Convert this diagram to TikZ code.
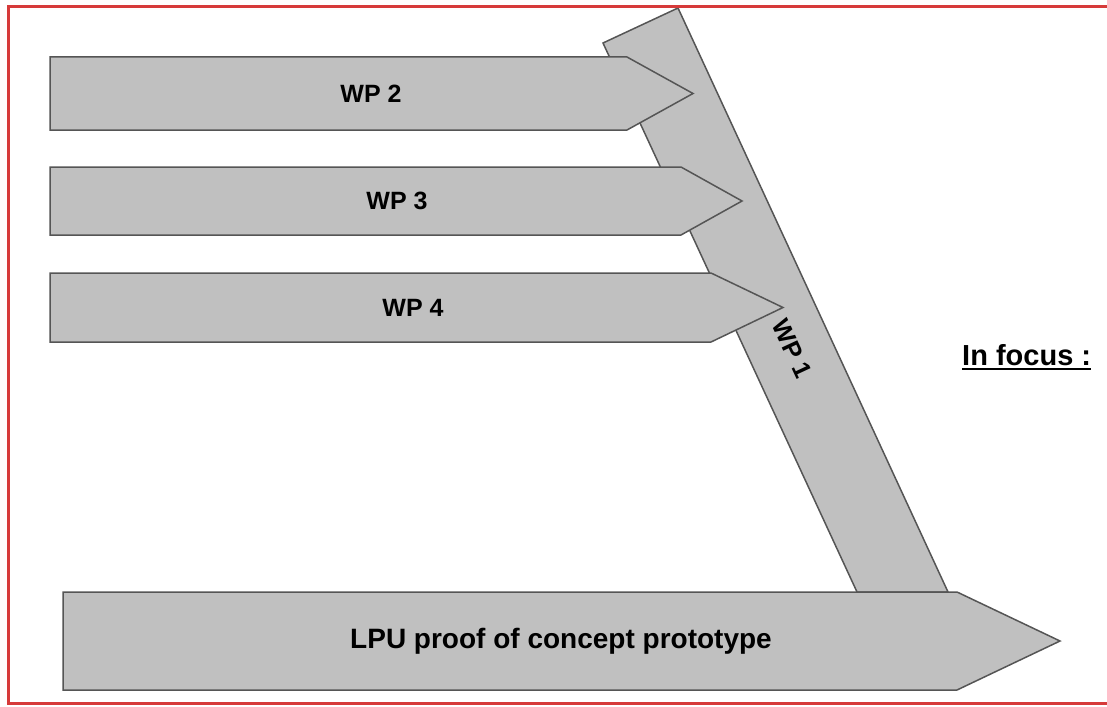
\documentclass[tikz,border=0pt]{standalone}
\usepackage{fontspec}
\setmainfont{Liberation Sans}
\usetikzlibrary{positioning,calc}
\definecolor{wpgray}{RGB}{192,192,192}
\definecolor{wpline}{RGB}{85,85,85}
\definecolor{framered}{RGB}{214,58,58}

\begin{document}
\begin{tikzpicture}[x=1pt,y=-1pt,
  wpshape/.style={fill=wpgray,draw=wpline,line width=1.5pt,line join=miter},
  wplabel/.style={font=\fontsize{25}{30}\selectfont\bfseries,inner sep=0pt}]
\useasboundingbox (0,0) rectangle (1107,706);

% WP 1 band behind the other arrows
\draw[wpshape] (603,43) -- (678,8) -- (948,592) -- (857,592) -- cycle;
\node[wplabel, rotate=-65] (wp1) at (792,349) {WP 1};

% WP 2 .. WP 4
\foreach \n/\ya/\yb/\xs/\xt/\xl in {2/57/130/627/693/371, 3/167/235/681/742/397, 4/273/342/711/783/413} {
  \draw[wpshape] (50,\ya) -- (\xs,\ya) -- (\xt,{(\ya+\yb)/2}) -- (\xs,\yb) -- (50,\yb) -- cycle;
  \node[wplabel] (wp\n) at (\xl,{(\ya+\yb)/2}) {WP \n};
}

% result
\draw[wpshape] (63,592) -- (957,592) -- (1060,641) -- (957,690) -- (63,690) -- cycle;
\node[wplabel, font=\fontsize{28}{34}\selectfont\bfseries] (lpu) at (561,641) {LPU proof of concept prototype};

\node[wplabel, font=\fontsize{29}{35}\selectfont\bfseries, anchor=west] (focus) at (962,355) {In focus :};
\draw[line width=2pt] ([yshift=-4pt]focus.base west) -- ([yshift=-4pt]focus.base east);

% frame, right side falls outside
\draw[framered, line width=3pt] (1125,7) -- (8,7) -- (8,703) -- (1125,703);
\end{tikzpicture}
\end{document}
